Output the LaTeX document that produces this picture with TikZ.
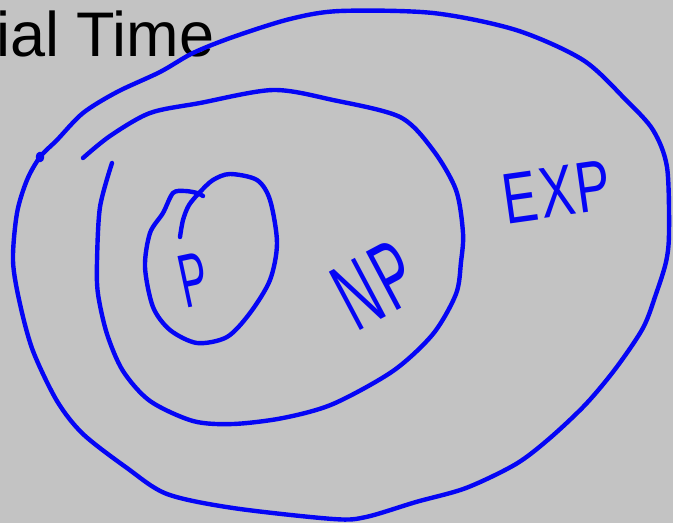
\documentclass[tikz,border=0pt]{standalone}
\usepackage{fontspec}
\setmainfont{Liberation Sans}
\usepackage{tikz}
\definecolor{board}{HTML}{C3C3C3}
\definecolor{pen}{HTML}{0505F5}
\tikzset{
  ink/.style={draw=pen,line width=4.4pt,line cap=round,line join=round},
  hand/.style={text=pen,inner sep=0pt,anchor=center}
}

\begin{document}
\begin{tikzpicture}[x=1pt,y=-1pt]
\useasboundingbox (0,0) rectangle (673,523);
\fill[board] (0,0) rectangle (673,523);
% slide title, cut off at the left
\node[inner sep=0pt,anchor=base west,font=\fontsize{63}{68}\selectfont] (title) at (-4,56) {ial Time};
% EXP
\draw[ink] plot[smooth cycle] coordinates {(40,157) (57,140) (83,113) (117,92) (160,72) (193,53) (233,37) (290,19) (340,11) (433,13) (516,30) (583,60) (626,100) (653,130) (667,167) (669,233) (666,262) (656,294) (643,328) (616,368) (586,404) (550,438) (516,464) (466,488) (416,502) (366,517) (333,519) (233,508) (167,494) (127,468) (83,434) (57,401) (33,351) (20,304) (13,261) (17,213) (27,180)};
\draw[ink,line width=2.6pt] (40,157) ellipse (3 and 4);
\node[hand,rotate=8,xscale=.72,font=\fontsize{72}{72}\selectfont] (exp) at (557,192) {E\kern3pt X\kern3pt P};
% NP
\draw[ink] plot[smooth] coordinates {(83,158) (110,136) (150,113) (200,103) (273,90) (333,100) (400,117) (433,150) (456,190) (463,233) (461,262) (456,294) (433,334) (393,371) (333,404) (283,418) (233,424) (193,421) (150,401) (123,371) (107,334) (98,294) (97,262) (100,207) (112,163)};
\node[hand,rotate=28,xscale=.55,font=\fontsize{96}{96}\selectfont] (np) at (375,285) {N\kern6pt P};
% P
\draw[ink] plot[smooth] coordinates {(203,196) (197,193) (185,191) (173,193) (163,213) (150,233) (145,267) (153,307) (170,330) (197,343) (227,337) (250,313) (270,280) (277,243) (270,200) (257,180) (230,174) (213,180) (200,192) (189,205) (183,220) (180,237)};
\node[hand,rotate=12,xscale=.55,font=\fontsize{76}{76}\selectfont] (p) at (194,280) {P};
\end{tikzpicture}
\end{document}
